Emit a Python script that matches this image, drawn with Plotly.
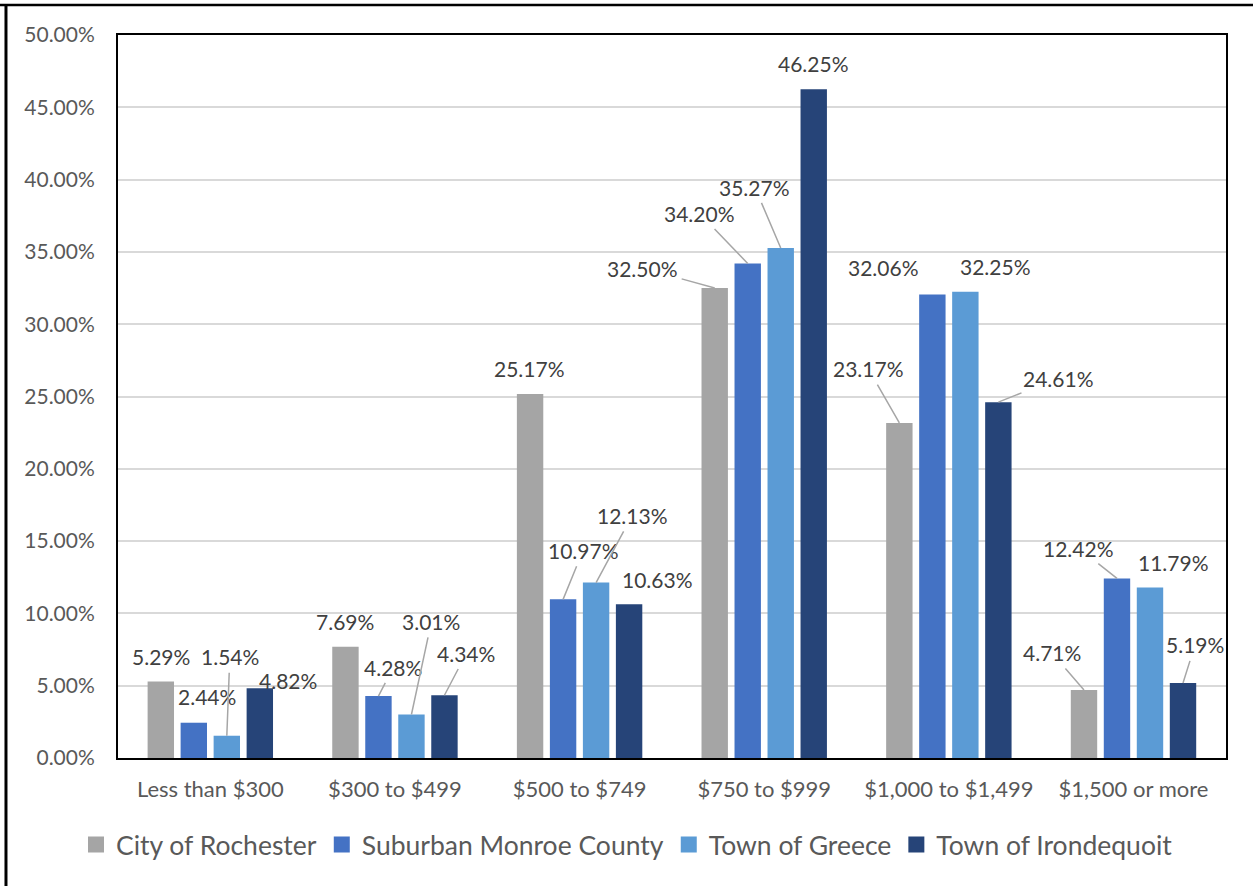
import plotly.graph_objects as go

# Datos: porcentaje de hogares por renta bruta
categorias = ["Less than $300", "$300 to $499", "$500 to $749",
              "$750 to $999", "$1,000 to $1,499", "$1,500 or more"]
rochester = [5.29, 7.69, 25.17, 32.50, 23.17, 4.71]
suburban = [2.44, 4.28, 10.97, 34.20, 32.06, 12.42]
greece = [1.54, 3.01, 12.13, 35.27, 32.25, 11.79]
irondequoit = [4.82, 4.34, 10.63, 46.25, 24.61, 5.19]

series = [
    ("City of Rochester", rochester, "#a5a5a5"),
    ("Suburban Monroe County", suburban, "#4472c4"),
    ("Town of Greece", greece, "#5b9bd5"),
    ("Town of Irondequoit", irondequoit, "#264478"),
]

# desplazamiento de cada etiqueta (px) y si lleva línea guía
offsets = [
    [(0, -25, False), (0, -25, False), (-1, -26, False), (-72, -20, True), (-31, -54, True), (-32, -37, True)],
    [(13, -26, False), (15, -29, True), (20, -49, True), (-48, -50, True), (-49, -27, False), (-38, -30, True)],
    [(3, -79, True), (20, -93, True), (36, -67, True), (-26, -61, True), (30, -25, False), (23, -25, False)],
    [(28, -8, False), (22, -42, True), (28, -25, False), (0, -26, False), (60, -24, True), (12, -38, True)],
]

BARGAP = 0.285
slot = (1 - BARGAP) / 4
FONT = "Lato"

fig = go.Figure()
anns = []
for j, (name, vals, color) in enumerate(series):
    fig.add_trace(go.Bar(x=categorias, y=vals, name=name, marker_color=color,
                         marker_line_width=0, hoverinfo="x+y", showlegend=False))
    # entrada de leyenda con cuadrado más grande
    fig.add_trace(go.Scatter(x=[None], y=[None], mode="markers", name=name,
                             marker=dict(symbol="square", size=17, color=color)))
    for i, v in enumerate(vals):
        dx, dy, leader = offsets[j][i]
        xpos = i + (j - 1.5) * slot
        a = dict(x=xpos, y=v, xref="x", yref="y", text=f"{v:.2f}%",
                 font=dict(family=FONT, size=21, color="#404040"))
        if leader:
            a.update(showarrow=True, ax=dx, ay=dy, arrowhead=0, arrowwidth=1.5,
                     arrowcolor="#a6a6a6", standoff=0, startstandoff=2)
        else:
            a.update(showarrow=False, xshift=dx, yshift=-dy)
        anns.append(a)

fig.update_layout(
    width=1253, height=886,
    margin=dict(l=118, r=27, t=35, b=128, autoexpand=False),
    paper_bgcolor="white", plot_bgcolor="white",
    barmode="group", bargap=BARGAP, bargroupgap=0.2,
    font=dict(family=FONT, color="#595959"),
    annotations=anns,
    showlegend=True,
    legend=dict(orientation="h", x=-0.0379, xanchor="left", y=-0.12, yanchor="middle",
                font=dict(family=FONT, size=26.5, color="#595959"),
                itemsizing="trace", traceorder="normal", tracegroupgap=0),
    shapes=[
        # marco exterior
        dict(type="line", xref="paper", yref="paper", x0=-0.11, x1=1.03,
             y0=1.0415, y1=1.0415, line=dict(color="black", width=2.5)),
        dict(type="line", xref="paper", yref="paper", x0=-0.1011, x1=-0.1011,
             y0=1.0415, y1=-0.2, line=dict(color="black", width=3)),
    ],
)

fig.update_xaxes(showline=True, mirror=True, linecolor="black", linewidth=2,
                 tickfont=dict(size=22, color="#595959"), ticks="",
                 ticklabelstandoff=11, showgrid=False)
fig.update_yaxes(range=[0, 50], dtick=5, tickformat=".2f", ticksuffix="%",
                 showline=True, mirror=True, linecolor="black", linewidth=2,
                 gridcolor="#d9d9d9", gridwidth=1.5, zeroline=False,
                 tickfont=dict(size=21, color="#595959"), ticks="",
                 ticklabelstandoff=17)

fig.write_html("out.html", config={"displayModeBar": False},
               post_script="document.body.style.margin='0';")
